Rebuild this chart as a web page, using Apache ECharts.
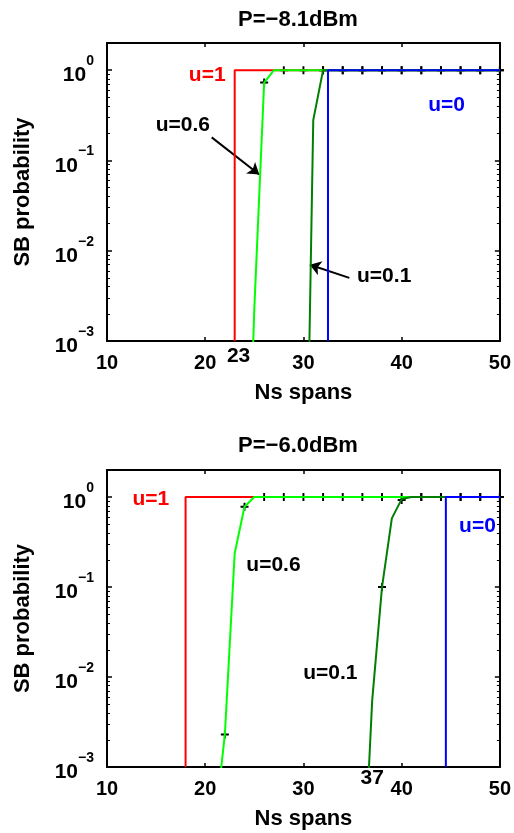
<!DOCTYPE html>
<html><head><meta charset="utf-8">
<script src="https://cdn.jsdelivr.net/npm/echarts@6/dist/echarts.min.js"></script>
<style>html,body{margin:0;padding:0;background:#fff}#c{width:514px;height:833px}</style>
</head><body><div id="c"></div>
<script>
const FONT = '"Liberation Sans", Arial, Helvetica, sans-serif';

// ---------- Panel titles ----------
const panelTitles = ['P=−8.1dBm', 'P=−6.0dBm'];

// ---------- Axis ticks ----------
const xTicks = [10, 20, 30, 40, 50];
const yMajorTicks = [0.001, 0.01, 0.1, 1];
const yMinorMultipliers = [2, 3, 4, 5, 6, 7, 8, 9];
const yDecades = [0.001, 0.01, 0.1, 1];

// ---------- Top panel (P = -8.1 dBm) ----------
const topU1  = [[23, 0.001], [23, 1], [50, 1]];
const topU06 = [[24, 1e-6], [25, 0.0023], [26, 0.73], [27, 1], [50, 1]];
const topU01 = [[30, 1.5e-7], [31, 0.28], [32, 1], [50, 1]];
const topU0  = [[32.5, 0.001], [32.5, 1], [50, 1]];
const topSim06 = [[26, 0.73], [28, 1], [30, 1], [32, 1], [34, 1], [36, 1], [38, 1], [40, 1], [42, 1], [44, 1], [46, 1], [48, 1], [50, 1]];
const topSim01 = [[32, 1], [34, 1], [36, 1], [38, 1], [40, 1], [42, 1], [44, 1], [46, 1], [48, 1], [50, 1]];
const topLabels = [
  ['u=1', 20.2, 0.87], ['u=0', 44.57, 0.414], ['u=0.6', 17.72, 0.248], ['u=0.1', 38.22, 0.00527], ['23', 23.4, 0.00068]
];
const topArrows = [
  [[20.66, 0.18], [25.5, 0.07]],
  [[34.67, 0.005], [30.65, 0.007]]
];

// ---------- Bottom panel (P = -6.0 dBm) ----------
const botU1  = [[18, 0.001], [18, 1], [50, 1]];
const botU06 = [[21, 0.00023], [22, 0.0023], [23, 0.237], [24, 0.78], [25, 1], [50, 1]];
const botU01 = [[36, 0.00003], [37, 0.0055], [38, 0.1], [39, 0.58], [40, 0.95], [41, 1], [50, 1]];
const botU0  = [[44.5, 0.001], [44.5, 1], [50, 1]];
const botSim06 = [[22, 0.0023], [24, 0.78], [26, 1], [28, 1], [30, 1], [32, 1], [34, 1], [36, 1], [38, 1], [40, 1], [42, 1], [44, 1], [46, 1], [48, 1], [50, 1]];
const botSim01 = [[38, 0.1], [40, 0.93], [42, 1], [44, 1], [46, 1], [48, 1], [50, 1]];
const botLabels = [
  ['u=1', 14.47, 0.94], ['u=0', 47.72, 0.48], ['u=0.6', 26.95, 0.173], ['u=0.1', 32.74, 0.0109], ['37', 37, 0.00076]
];
const botArrows = [];

// ---------- build ----------
const labelColors = {'u=1': '#ff0000', 'u=0': '#0000ff'};
const minorTicks = [];
yDecades.forEach(d => yMinorMultipliers.forEach(m => minorTicks.push(+(d * m).toPrecision(3))));

const grids = [
  {left: 107, top: 43, width: 394, height: 298},
  {left: 107, top: 470, width: 394, height: 297}
];
const PLUS = 'path://M3.8,0h2.4v3.8h3.8v2.4h-3.8v3.8h-2.4v-3.8h-3.8v-2.4h3.8z';

const xAxes = [], yAxes = [], series = [], titles = [];
const panels = [
  {u1: topU1, u06: topU06, u01: topU01, u0: topU0, s06: topSim06, s01: topSim01, labels: topLabels, arrows: topArrows},
  {u1: botU1, u06: botU06, u01: botU01, u0: botU0, s06: botSim06, s01: botSim01, labels: botLabels, arrows: botArrows}
];
const titleTops = [9, 435];

panels.forEach((p, g) => {
  titles.push({
    text: panelTitles[g], left: 298, top: titleTops[g], textAlign: 'center', padding: 0,
    textStyle: {fontFamily: FONT, fontWeight: 'bold', fontSize: 22, color: '#000'}
  });
  const xb = xAxes.length;
  xAxes.push({
    type: 'value', gridIndex: g, position: 'bottom', min: 10, max: 50, interval: 10,
    name: 'Ns spans', nameLocation: 'middle', nameGap: 41,
    nameTextStyle: {fontFamily: FONT, fontWeight: 'bold', fontSize: 22, color: '#000'},
    axisLine: {show: true, onZero: false, lineStyle: {color: '#000', width: 2}},
    axisTick: {show: true, inside: true, length: 4, lineStyle: {color: '#000', width: 1.5}, customValues: xTicks},
    axisLabel: {fontFamily: FONT, fontWeight: 'bold', fontSize: 20, color: '#000', margin: 12, customValues: xTicks},
    splitLine: {show: false}
  });
  xAxes.push({
    type: 'value', gridIndex: g, position: 'top', min: 10, max: 50, interval: 10,
    axisLine: {show: true, onZero: false, lineStyle: {color: '#000', width: 2}},
    axisTick: {show: true, inside: true, length: 4, lineStyle: {color: '#000', width: 1.5}},
    axisLabel: {show: false}, splitLine: {show: false}
  });
  const yb = yAxes.length;
  yAxes.push({
    type: 'log', gridIndex: g, position: 'left', min: 0.001, max: 2, logBase: 10,
    name: 'SB probability', nameLocation: 'middle', nameGap: 73,
    nameTextStyle: {fontFamily: FONT, fontWeight: 'bold', fontSize: 22, color: '#000'},
    axisLine: {show: true, onZero: false, lineStyle: {color: '#000', width: 2}},
    axisTick: {show: true, inside: true, length: 5, lineStyle: {color: '#000', width: 1.5}, customValues: yMajorTicks},
    axisLabel: {
      margin: 13, customValues: yMajorTicks,
      formatter: v => {
        const e = Math.round(Math.log10(v));
        return '{b|10}{s|' + (e < 0 ? '−' + (-e) : String(e)) + '}';
      },
      rich: {
        b: {fontFamily: FONT, fontWeight: 'bold', fontSize: 21, color: '#000', lineHeight: 32, verticalAlign: 'bottom'},
        s: {fontFamily: FONT, fontWeight: 'bold', fontSize: 14, color: '#000', lineHeight: 14, verticalAlign: 'top'}
      }
    },
    splitLine: {show: false}
  });
  yAxes.push({
    type: 'log', gridIndex: g, position: 'right', min: 0.001, max: 2, logBase: 10,
    axisLine: {show: true, onZero: false, lineStyle: {color: '#000', width: 2}},
    axisTick: {show: true, inside: true, length: 5, lineStyle: {color: '#000', width: 1.5}, customValues: yMajorTicks},
    axisLabel: {show: false}, splitLine: {show: false}
  });
  ['left', 'right'].forEach(pos => yAxes.push({
    type: 'log', gridIndex: g, position: pos, min: 0.001, max: 2, logBase: 10,
    axisLine: {show: false},
    axisTick: {show: true, inside: true, length: 3, lineStyle: {color: '#000', width: 1}, customValues: minorTicks.filter(t => t < 2)},
    axisLabel: {show: false}, splitLine: {show: false}
  }));

  const mk = (data, color) => ({
    type: 'line', xAxisIndex: xb, yAxisIndex: yb, data, showSymbol: false, symbol: 'none',
    lineStyle: {color, width: 2}, clip: true, animation: false, silent: true
  });
  series.push(mk(p.u1, '#ff0000'));
  series.push(mk(p.u06, '#00ff00'));
  series.push(mk(p.u01, '#007f00'));
  series.push(mk(p.u0, '#0000ff'));
  [p.s06, p.s01].forEach(d => series.push({
    type: 'scatter', xAxisIndex: xb, yAxisIndex: yb, data: d, symbol: PLUS, symbolSize: 8,
    itemStyle: {color: '#000', opacity: 1}, animation: false, silent: true, clip: false
  }));
  series.push({
    type: 'scatter', xAxisIndex: xb, yAxisIndex: yb, symbolSize: 1, clip: false, animation: false, silent: true,
    itemStyle: {opacity: 0},
    data: p.labels.map(l => ({
      value: [l[1], l[2]], name: l[0],
      label: {color: labelColors[l[0]] || '#000'}
    })),
    label: {show: true, position: 'inside', formatter: '{b}', fontFamily: FONT, fontWeight: 'bold', fontSize: 21,
      textBorderWidth: 0, opacity: 1}
  });
  if (p.arrows.length) series.push({
    type: 'lines', coordinateSystem: 'cartesian2d', xAxisIndex: xb, yAxisIndex: yb,
    data: p.arrows.map(a => ({coords: a})), symbol: ['none', 'arrow'], symbolSize: 11,
    lineStyle: {color: '#000', width: 2, opacity: 1}, animation: false, silent: true
  });
});

const chart = echarts.init(document.getElementById('c'), null, {renderer: 'canvas'});
chart.setOption({
  backgroundColor: '#fff', animation: false,
  title: titles, grid: grids, xAxis: xAxes, yAxis: yAxes, series
});
</script></body></html>
